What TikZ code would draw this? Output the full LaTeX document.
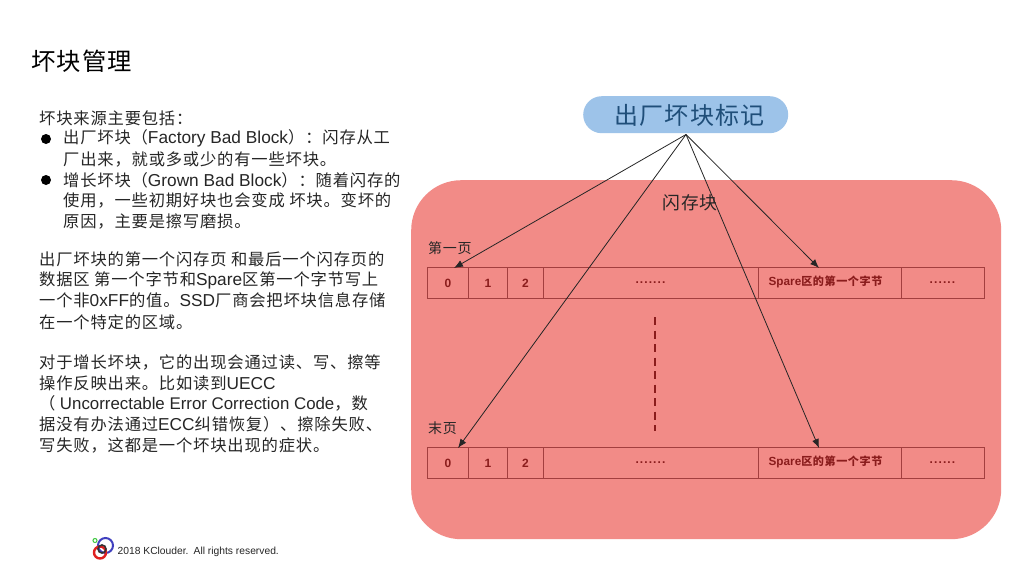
\documentclass[tikz,border=0pt]{standalone}
\usepackage{fontspec}
\setmainfont[Scale=1.06]{Liberation Sans}
\newfontfamily\cjk[LetterSpace=5]{Noto Sans CJK SC}
\newcommand{\ltn}[1]{{\rmfamily\normalfont #1}}
\definecolor{blob}{HTML}{F28B87}
\definecolor{pill}{HTML}{9DC3E9}
\definecolor{pilltext}{HTML}{1F4E79}
\definecolor{cellline}{HTML}{A33F3F}
\definecolor{celltext}{HTML}{8A1C1C}
\usetikzlibrary{arrows.meta}
\tikzset{
  body/.style={anchor=west,inner sep=0pt,font=\fontsize{16.3}{16}\selectfont\cjk,text=black!85},
  lbl/.style={inner sep=0pt,font=\fontsize{14}{14}\selectfont\cjk,text=black!85},
  cell/.style={draw=cellline,line width=1pt,minimum height=31pt,inner sep=0pt,anchor=north west,text=celltext,font=\fontsize{11.3}{12}\selectfont\bfseries},
  sparecell/.style={cell,minimum width=143pt,font=\fontsize{11.1}{12}\selectfont\bfseries\cjk},
  conn/.style={draw=black!85,line width=0.8pt},
  tip/.style={conn,-{Latex[length=9pt,width=7pt]}},
  bullet/.style={circle,fill=black,inner sep=0pt,minimum size=10pt}
}
\newcommand{\wdots}[1]{\raisebox{1.5pt}{\foreach \i in {1,...,#1}{.\kern1.1pt}}}
\begin{document}
\begin{tikzpicture}[x=1pt,y=-1pt]
\useasboundingbox (0,0) rectangle (1024,576);
\fill[white] (0,0) rectangle (1024,576);
\node[anchor=west,inner sep=0pt,font=\fontsize{24.3}{25}\selectfont\cjk] (title) at (31,61) {坏块管理};
% left text
\node[body] (l1) at (39,118) {坏块来源主要包括：};
\node[bullet] (b1) at (46,139) {};
\node[body] (l2) at (63,138.5) {出厂坏块（\ltn{Factory Bad Block}）：闪存从工};
\node[body] (l3) at (63,159) {厂出来，就或多或少的有一些坏块。};
\node[bullet] (b2) at (46,180) {};
\node[body] (l4) at (63,180) {增长坏块（\ltn{Grown Bad Block}）：随着闪存的};
\node[body] (l5) at (63,200) {使用，一些初期好块也会变成 坏块。变坏的};
\node[body] (l6) at (63,221) {原因，主要是擦写磨损。};
\node[body] (l7) at (39,259) {出厂坏块的第一个闪存页 和最后一个闪存页的};
\node[body] (l8) at (39,280) {数据区 第一个字节和\ltn{Spare}区第一个字节写上};
\node[body] (l9) at (39,300) {一个非\ltn{0xFF}的值。\ltn{SSD}厂商会把坏块信息存储};
\node[body] (l10) at (39,322) {在一个特定的区域。};
\node[body] (l11) at (39,362) {对于增长坏块，它的出现会通过读、写、擦等};
\node[body] (l12) at (39,383) {操作反映出来。比如读到\ltn{UECC}};
\node[body] (l13) at (39,403) {（ {\fontsize{15.9}{16}\selectfont\ltn{Uncorrectable Error Correction Code}}，数};
\node[body] (l14) at (39,424) {据没有办法通过\ltn{ECC}纠错恢复）、擦除失败、};
\node[body] (l15) at (39,445) {写失败，这都是一个坏块出现的症状。};
% footer logo
\draw[draw=blue!50!gray,line width=2pt] (105.5,545.5) circle (7.5pt);
\draw[draw=red!75!gray,line width=2.4pt] (100,552.5) circle (6pt);
\draw[draw=black!80,line width=1.6pt] (102,549) circle (4pt);
\draw[draw=green!55!gray,line width=1pt] (95,540.5) circle (2pt);
\node[anchor=west,inner sep=0pt,font=\fontsize{9.7}{10}\selectfont,text=black!85] (foot) at (117.5,551.5) {2018 KClouder.\enspace All rights reserved.};
% block
\node[draw=none,fill=blob,rounded corners=50pt,minimum width=590pt,minimum height=359pt,inner sep=0pt,anchor=north west] (blk) at (411,180) {};
\node[lbl,font=\fontsize{17.8}{18}\selectfont\cjk] (blklbl) at (690,203) {闪存块};
% pill
\node[fill=pill,rounded corners=18.5pt,minimum width=205pt,minimum height=37pt,inner sep=0pt,anchor=north west] (mark) at (583,96) {};
\node[text=pilltext,inner sep=0pt,font=\fontsize{24}{25}\selectfont\cjk] (marklbl) at (689.5,115) {出厂坏块标记};
\coordinate (src) at (686,134.5);
% row 1
\node[lbl,anchor=west] (p1) at (428,248.5) {第一页};
\node[cell,minimum width=41pt] (a0) at (427,267) {0};
\node[cell,minimum width=39pt] (a1) at (468,267) {1};
\node[cell,minimum width=36pt] (a2) at (507,267) {2};
\node[cell,minimum width=215pt] (a3) at (543,267) {\wdots{7}};
\node[sparecell] (a4) at (758,267) {\hspace*{-9pt}\raisebox{5pt}{\ltn{\bfseries Spare}区的第一个字节}};
\node[cell,minimum width=83pt] (a5) at (901,267) {\wdots{6}};
% row 2
\node[lbl,anchor=west] (p2) at (428,428.5) {末页};
\node[cell,minimum width=41pt] (c0) at (427,447) {0};
\node[cell,minimum width=39pt] (c1) at (468,447) {1};
\node[cell,minimum width=36pt] (c2) at (507,447) {2};
\node[cell,minimum width=215pt] (c3) at (543,447) {\wdots{7}};
\node[sparecell] (c4) at (758,447) {\hspace*{-9pt}\raisebox{5pt}{\ltn{\bfseries Spare}区的第一个字节}};
\node[cell,minimum width=83pt] (c5) at (901,447) {\wdots{6}};
% dashed
\coordinate (d1) at (654.5,317);
\coordinate (d2) at (654.5,431);
\draw[draw=celltext,line width=2pt,dash pattern=on 8pt off 5.5pt] (d1) -- (d2);
% arrows
\coordinate (t1) at (454,268);
\coordinate (t2) at (819,268);
\coordinate (t3) at (458,448);
\coordinate (t4) at (819,448);
\draw[tip] (src) -- (t1);
\draw[tip] (src) -- (t2);
\draw[tip] (src) -- (t3);
\draw[tip] (src) -- (t4);
\end{tikzpicture}
\end{document}
